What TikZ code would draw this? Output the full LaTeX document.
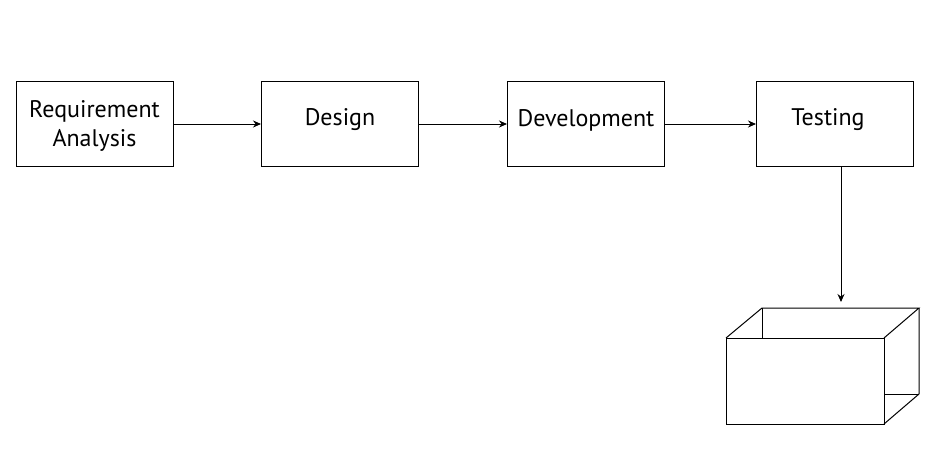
\documentclass[tikz,border=0pt]{standalone}
\usepackage{fontspec}
\setmainfont{PT Sans}
\usetikzlibrary{arrows.meta}
\begin{document}
\begin{tikzpicture}[x=1pt,y=-1pt,
  stagebox/.style={draw,line width=1pt,minimum width=157pt,minimum height=85pt,inner sep=0pt},
  lbl/.style={font=\fontsize{24}{29}\selectfont,inner sep=0pt,align=center},
  conn/.style={line width=0.9pt,-{Stealth[length=8pt,width=7pt]}},
  edge3d/.style={line width=1pt,line join=miter}]
\useasboundingbox (0,0) rectangle (946,452);
\node[stagebox] (req) at (94.5,124) {};
\node[stagebox] (des) at (340,124) {};
\node[stagebox] (dev) at (586,124) {};
\node[stagebox] (tst) at (835,124) {};
\node[lbl] (reqt) at (94.5,126) {Requirement\\Analysis};
\node[lbl] (dest) at (340,120) {Design};
\node[lbl] (devt) at (586,120) {Development};
\node[lbl] (tstt) at (828,120) {Testing};
\coordinate (ftl) at (726,338);
\coordinate (ftr) at (884,338);
\coordinate (fbr) at (884,424);
\coordinate (fbl) at (726,424);
\coordinate (btl) at (762,308);
\coordinate (btr) at (919,308);
\coordinate (bbr) at (919,394);
\coordinate (bbrl) at (884,394);
\coordinate (bml) at (762,338);
\coordinate (cubetop) at (841,302);
\coordinate (tstbot) at (841,166.5);
\draw[edge3d] (ftl) rectangle (fbr);
\draw[edge3d] (ftl) -- (btl) -- (btr) -- (ftr);
\draw[edge3d] (btl) -- (bml);
\draw[edge3d] (btr) -- (bbr) -- (fbr);
\draw[edge3d] (bbr) -- (bbrl);
\draw[conn] (req.east) -- (des.west);
\draw[conn] (des.east) -- (dev.west);
\draw[conn] (dev.east) -- (tst.west);
\draw[conn] (tstbot) -- (cubetop);
\end{tikzpicture}
\end{document}
